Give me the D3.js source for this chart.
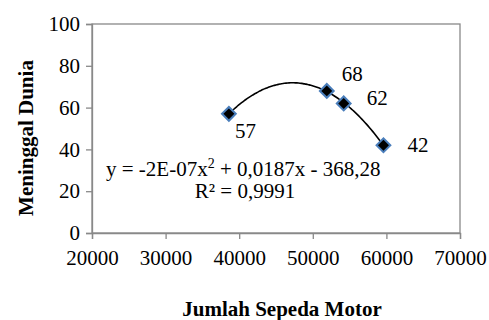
<!DOCTYPE html>
<html>
<head>
<meta charset="utf-8">
<script src="https://cdn.jsdelivr.net/npm/d3@7"></script>
<style>
  body { margin: 0; background: #fff; }
</style>
</head>
<body>
<div id="chart"></div>
<script>
// data
const motor = [38600, 51900, 54200, 59600];     // Jumlah Sepeda Motor
const deaths = [57, 68, 62, 42];                 // Meninggal Dunia
const pointLabels = ['57', '68', '62', '42'];
const xTicks = [20000, 30000, 40000, 50000, 60000, 70000];
const yTicks = [0, 20, 40, 60, 80, 100];
const equation = ['y = -2E-07x', '2', ' + 0,0187x - 368,28'];
const rSquared = 'R² = 0,9991';

const width = 489, height = 320;
const plotLeft = 92, plotRight = 460, plotTop = 24, plotBottom = 233;
const fontSize = 21;
const serif = '"Liberation Serif", "Times New Roman", serif';

const svg = d3.select('#chart').append('svg')
  .attr('width', width)
  .attr('height', height)
  .style('font-family', serif);

const x = d3.scaleLinear().domain([20000, 70000]).range([plotLeft, plotRight]);
const y = d3.scaleLinear().domain([0, 100]).range([plotBottom, plotTop]);

// plot area border
svg.append('rect')
  .attr('x', plotLeft).attr('y', plotTop)
  .attr('width', plotRight - plotLeft).attr('height', plotBottom - plotTop)
  .attr('fill', 'none').attr('stroke', '#898989').attr('stroke-width', 1.3);

// axes
const xAxis = svg.append('g')
  .attr('transform', `translate(0,${plotBottom})`)
  .call(d3.axisBottom(x).tickValues(xTicks).tickSize(6).tickPadding(11).tickFormat(d3.format('d')));
const yAxis = svg.append('g')
  .attr('transform', `translate(${plotLeft},0)`)
  .call(d3.axisLeft(y).tickValues(yTicks).tickSize(6).tickPadding(6));

[xAxis, yAxis].forEach(g => {
  g.attr('font-family', serif).attr('font-size', fontSize);
  g.select('.domain').attr('stroke', '#898989').attr('stroke-width', 1.3);
  g.selectAll('.tick line').attr('stroke', '#898989').attr('stroke-width', 1.3);
  g.selectAll('.tick text')
    .attr('fill', '#000')
    .style('font-family', serif)
    .style('font-size', fontSize + 'px');
});

// quadratic least squares trendline
function quadFit(xs, ys) {
  const m = d3.mean(xs);
  const s = 10000;
  const u = xs.map(v => (v - m) / s);
  const S = k => d3.sum(u, v => Math.pow(v, k));
  const T = k => d3.sum(u, (v, i) => Math.pow(v, k) * ys[i]);
  const A = [[S(0), S(1), S(2)], [S(1), S(2), S(3)], [S(2), S(3), S(4)]];
  const b = [T(0), T(1), T(2)];
  // gaussian elimination
  for (let i = 0; i < 3; i++) {
    for (let j = i + 1; j < 3; j++) {
      const f = A[j][i] / A[i][i];
      for (let k = i; k < 3; k++) A[j][k] -= f * A[i][k];
      b[j] -= f * b[i];
    }
  }
  const c = [0, 0, 0];
  for (let i = 2; i >= 0; i--) {
    let v = b[i];
    for (let k = i + 1; k < 3; k++) v -= A[i][k] * c[k];
    c[i] = v / A[i][i];
  }
  return xv => { const t = (xv - m) / s; return c[0] + c[1] * t + c[2] * t * t; };
}
const fit = quadFit(motor, deaths);
const xs = d3.range(0, 101).map(i => motor[0] + (motor[3] - motor[0]) * i / 100);

svg.append('path')
  .datum(xs)
  .attr('fill', 'none')
  .attr('stroke', '#000')
  .attr('stroke-width', 1.6)
  .attr('d', d3.line().x(d => x(d)).y(d => y(fit(d))).curve(d3.curveBasis));

// markers
svg.selectAll('.pt')
  .data(motor)
  .enter().append('path')
  .attr('class', 'pt')
  .attr('transform', (d, i) => `translate(${x(d)},${y(deaths[i])}) rotate(45)`)
  .attr('d', d3.symbol().type(d3.symbolSquare).size(95))
  .attr('fill', '#000')
  .attr('stroke', '#4a7ebb')
  .attr('stroke-width', 2);

// data labels
const labelOffset = [[6, 24], [15, -10], [23, 2], [24, 7]];
svg.selectAll('.lbl')
  .data(motor)
  .enter().append('text')
  .attr('x', (d, i) => x(d) + labelOffset[i][0])
  .attr('y', (d, i) => y(deaths[i]) + labelOffset[i][1])
  .style('font-family', serif)
  .style('font-size', fontSize + 'px')
  .text((d, i) => pointLabels[i]);

// trendline equation
const eq = svg.append('text')
  .attr('x', 106).attr('y', 176)
  .style('font-family', serif)
  .style('font-size', fontSize + 'px');
eq.append('tspan').text(equation[0]);
eq.append('tspan').attr('dy', -8).style('font-size', '14px').text(equation[1]);
eq.append('tspan').attr('dy', 8).text(equation[2]);

svg.append('text')
  .attr('x', 245).attr('y', 198)
  .attr('text-anchor', 'middle')
  .style('font-family', serif)
  .style('font-size', fontSize + 'px')
  .text(rSquared);

// axis titles
svg.append('text')
  .attr('x', 282).attr('y', 316)
  .attr('text-anchor', 'middle')
  .style('font-family', serif)
  .style('font-size', fontSize + 'px')
  .style('font-weight', 'bold')
  .text('Jumlah Sepeda Motor');

svg.append('text')
  .attr('transform', `translate(33,138) rotate(-90)`)
  .attr('text-anchor', 'middle')
  .style('font-family', serif)
  .style('font-size', fontSize + 'px')
  .style('font-weight', 'bold')
  .text('Meninggal Dunia');
</script>
</body>
</html>
